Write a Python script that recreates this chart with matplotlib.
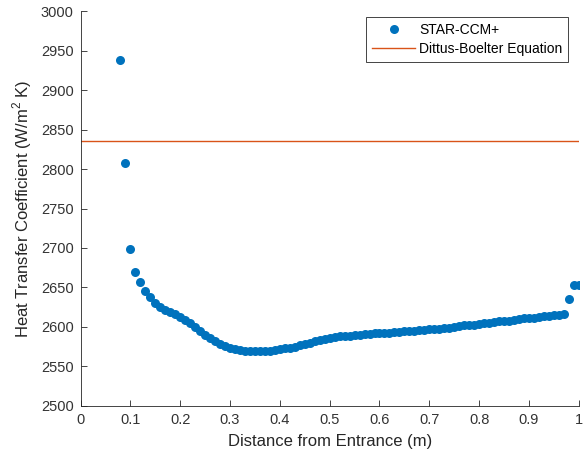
import numpy as np
import matplotlib.pyplot as plt

plt.rcParams['font.family'] = ['Liberation Sans', 'DejaVu Sans']
plt.rcParams['mathtext.fontset'] = 'custom'
plt.rcParams['mathtext.rm'] = 'Liberation Sans'

# STAR-CCM+ result, x = distance from entrance (m)
dist = np.round(np.arange(8, 101) / 100.0, 2)
htc = [2938, 2807, 2699, 2670, 2657, 2646, 2638, 2630, 2625, 2622,
       2619, 2616, 2613, 2609, 2605, 2600, 2595, 2590, 2586, 2582,
       2578, 2576, 2574, 2572, 2571, 2570, 2570, 2569, 2569, 2570,
       2570, 2571, 2572, 2573, 2574, 2575, 2577, 2578, 2580, 2582,
       2583, 2585, 2586, 2587, 2588, 2589, 2589, 2590, 2590, 2591,
       2591, 2592, 2592, 2593, 2593, 2594, 2594, 2595, 2595, 2595,
       2596, 2596, 2597, 2597, 2598, 2599, 2599, 2600, 2601, 2602,
       2603, 2603, 2604, 2605, 2605, 2606, 2607, 2608, 2608, 2609,
       2610, 2611, 2611, 2612, 2613, 2614, 2614, 2615, 2615, 2616,
       2635, 2653, 2653]
dittus = 2835

fig = plt.figure(figsize=(5.84, 4.59), dpi=100)
ax = fig.add_axes([0.138, 0.1155, 0.853, 0.8605])

ax.plot(dist, htc, 'o', color='#0072BD', ms=6.5, mec='none', label='STAR-CCM+')
ax.axhline(dittus, color='#D95319', lw=1, label='Dittus-Boelter Equation')

ax.set_xlim(0, 1)
ax.set_ylim(2500, 3000)
ax.set_xticks(np.arange(0, 1.01, 0.1))
ax.set_xticklabels(['0', '0.1', '0.2', '0.3', '0.4', '0.5', '0.6', '0.7', '0.8', '0.9', '1'])
ax.set_yticks(np.arange(2500, 3001, 50))

for s in ['top', 'right']:
    ax.spines[s].set_visible(False)
for s in ['left', 'bottom']:
    ax.spines[s].set_color('#262626')
    ax.spines[s].set_linewidth(0.6)
ax.tick_params(direction='in', length=4, width=0.6, colors='#262626',
               labelsize=10.5, labelcolor='#333333', pad=5)

ax.set_xlabel('Distance from Entrance (m)', fontsize=12, color='#262626', labelpad=5)
ax.set_ylabel('Heat Transfer Coefficient (W/m$^2$ K)', fontsize=12, color='#262626', labelpad=5)

leg = ax.legend(loc='upper right', bbox_to_anchor=(568 / 584, 1 - 17 / 459),
                bbox_transform=fig.transFigure, borderaxespad=0,
                fontsize=10, fancybox=False, framealpha=1,
                edgecolor='#262626', borderpad=0.4, handlelength=3.1,
                labelspacing=0.4, handletextpad=0.3)
leg.get_frame().set_linewidth(0.6)

fig.savefig('out.png', dpi=100)
